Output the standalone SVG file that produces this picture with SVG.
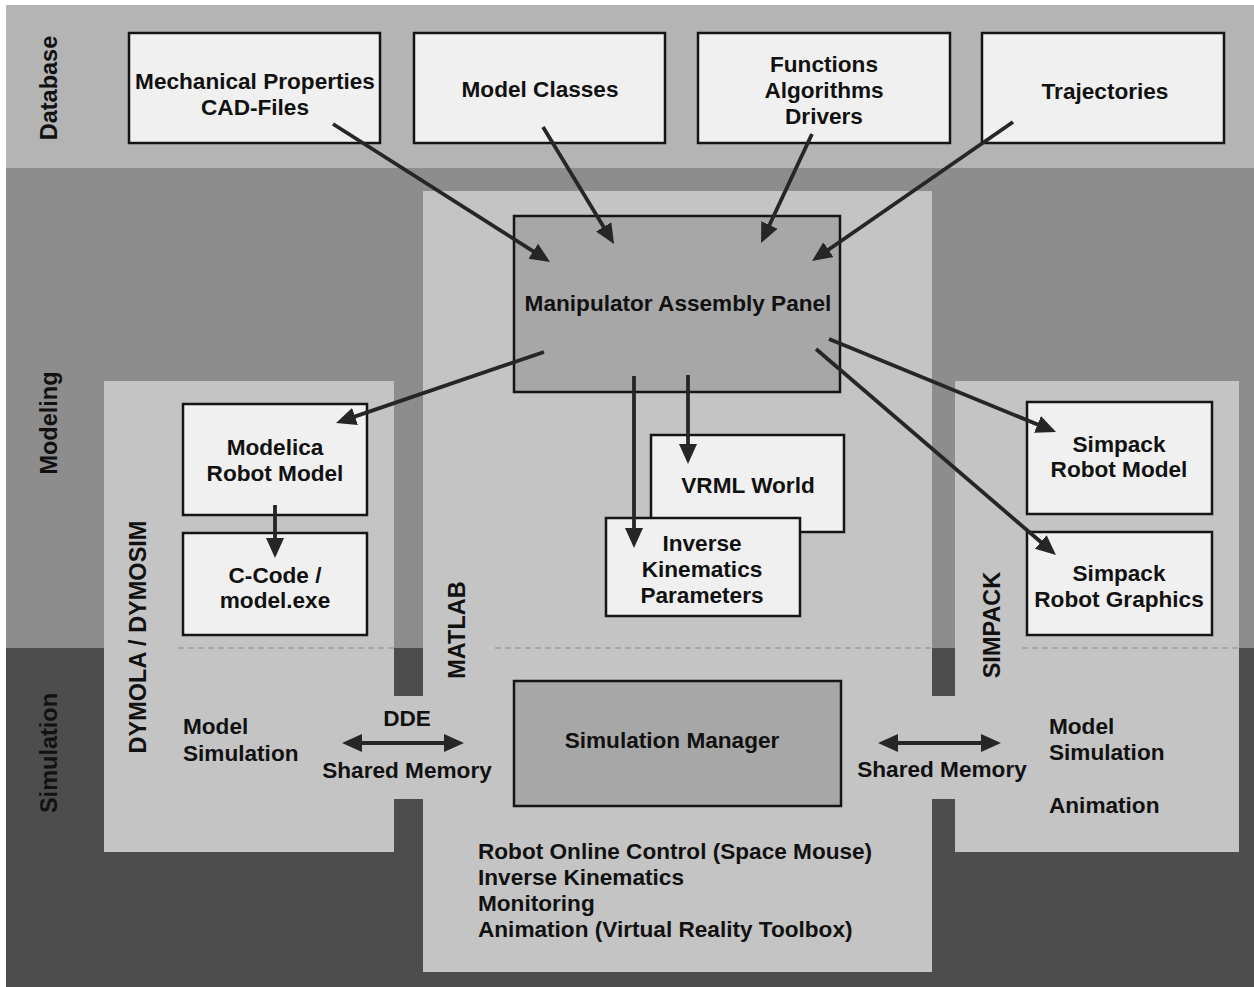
<svg xmlns="http://www.w3.org/2000/svg" width="1254" height="987" viewBox="0 0 1254 987">
<style>
.t{font-family:"Liberation Sans",Arial,sans-serif;font-weight:bold;font-size:22.6px;fill:#111;}
.c{text-anchor:middle;}
.side{font-family:"Liberation Sans",Arial,sans-serif;font-weight:bold;font-size:23.5px;fill:#111;text-anchor:middle;}
.box{fill:#f0f0f0;stroke:#151515;stroke-width:2.5;}
.dark{fill:#a7a7a7;stroke:#151515;stroke-width:2.5;}
.panel{fill:#c4c4c4;}
.edge{stroke:#262626;stroke-width:3.8;fill:none;marker-end:url(#ah);}
.dbl{stroke:#262626;stroke-width:3.8;fill:none;marker-start:url(#ah);marker-end:url(#ah);}
.dash{stroke:#8a8a8a;stroke-width:1;stroke-dasharray:6 4;}
</style>
<defs>
<marker id="ah" viewBox="0 0 20 20" refX="12" refY="10" markerUnits="userSpaceOnUse" markerWidth="20" markerHeight="20" orient="auto-start-reverse">
<path d="M0,1 L20,10 L0,19 z" fill="#262626"/>
</marker>
</defs>
<rect width="1254" height="987" fill="#ffffff"/>
<g id="bands">
<rect x="6" y="5" width="1248" height="163" fill="#b4b4b4"/>
<rect x="6" y="168" width="1248" height="480" fill="#8d8d8d"/>
<rect x="6" y="648" width="1248" height="339" fill="#4d4d4d"/>
<text class="side" transform="translate(57,88) rotate(-90)">Database</text>
<text class="side" transform="translate(57,423) rotate(-90)">Modeling</text>
<text class="side" transform="translate(57,753) rotate(-90)">Simulation</text>
</g>
<g id="panels">
<rect class="panel" x="104" y="381" width="290" height="471"/>
<rect class="panel" x="423" y="191" width="509" height="781"/>
<rect class="panel" x="955" y="381" width="284" height="471"/>
<rect class="panel" x="394" y="696" width="29" height="103"/>
<rect class="panel" x="932" y="696" width="23" height="103"/>
<line class="dash" x1="178" y1="648" x2="394" y2="648"/>
<line class="dash" x1="495" y1="648" x2="931" y2="648"/>
<line class="dash" x1="1022" y1="648" x2="1238" y2="648"/>
<text class="side" transform="translate(146,637) rotate(-90)">DYMOLA / DYMOSIM</text>
<text class="side" transform="translate(465,630) rotate(-90)">MATLAB</text>
<text class="side" transform="translate(1000,625) rotate(-90)">SIMPACK</text>
</g>
<g id="mech">
<rect class="box" x="129" y="33" width="251" height="110"/>
<text class="t c" x="255" y="89">Mechanical Properties</text>
<text class="t c" x="255" y="115">CAD-Files</text>
</g>
<g id="modelclasses">
<rect class="box" x="414" y="33" width="251" height="110"/>
<text class="t c" x="540" y="97">Model Classes</text>
</g>
<g id="functions">
<rect class="box" x="698" y="33" width="252" height="110"/>
<text class="t c" x="824" y="72">Functions</text>
<text class="t c" x="824" y="98">Algorithms</text>
<text class="t c" x="824" y="124">Drivers</text>
</g>
<g id="trajectories">
<rect class="box" x="982" y="33" width="242" height="110"/>
<text class="t c" x="1105" y="99">Trajectories</text>
</g>
<g id="map">
<rect class="dark" x="514" y="216" width="326" height="176"/>
<text class="t c" x="678" y="311">Manipulator Assembly Panel</text>
</g>
<g id="modelica">
<rect class="box" x="183" y="404" width="184" height="111"/>
<text class="t c" x="275" y="455">Modelica</text>
<text class="t c" x="275" y="481">Robot Model</text>
</g>
<g id="ccode">
<rect class="box" x="183" y="533" width="184" height="102"/>
<text class="t c" x="275" y="583">C-Code /</text>
<text class="t c" x="275" y="608">model.exe</text>
</g>
<g id="vrml">
<rect class="box" x="651" y="435" width="193" height="97"/>
<text class="t c" x="748" y="493">VRML World</text>
</g>
<g id="ik">
<rect class="box" x="606" y="518" width="194" height="98"/>
<text class="t c" x="702" y="551">Inverse</text>
<text class="t c" x="702" y="577">Kinematics</text>
<text class="t c" x="702" y="603">Parameters</text>
</g>
<g id="simpackmodel">
<rect class="box" x="1027" y="402" width="185" height="112"/>
<text class="t c" x="1119" y="452">Simpack</text>
<text class="t c" x="1119" y="477">Robot Model</text>
</g>
<g id="simpackgraphics">
<rect class="box" x="1027" y="532" width="185" height="103"/>
<text class="t c" x="1119" y="581">Simpack</text>
<text class="t c" x="1119" y="607">Robot Graphics</text>
</g>
<g id="simmanager">
<rect class="dark" x="514" y="681" width="327" height="125"/>
<text class="t c" x="672" y="748">Simulation Manager</text>
</g>
<g id="dymolasim">
<text class="t" x="183" y="734">Model</text>
<text class="t" x="183" y="761">Simulation</text>
</g>
<g id="matlabsim">
<text class="t" x="478" y="859">Robot Online Control (Space Mouse)</text>
<text class="t" x="478" y="885">Inverse Kinematics</text>
<text class="t" x="478" y="911">Monitoring</text>
<text class="t" x="478" y="937">Animation (Virtual Reality Toolbox)</text>
</g>
<g id="simpacksim">
<text class="t" x="1049" y="734">Model</text>
<text class="t" x="1049" y="760">Simulation</text>
<text class="t" x="1049" y="813">Animation</text>
</g>
<g id="connectors">
<line class="edge" x1="333" y1="124" x2="543.3" y2="257.7"/>
<line class="edge" x1="543" y1="127" x2="609.9" y2="237.2"/>
<line class="edge" x1="812" y1="134" x2="764.4" y2="235.8"/>
<line class="edge" x1="1013" y1="122" x2="818.6" y2="256.5"/>
<line class="edge" x1="544" y1="352" x2="343.6" y2="420.4"/>
<line class="edge" x1="634" y1="376" x2="634" y2="540"/>
<line class="edge" x1="688" y1="375" x2="688" y2="456"/>
<line class="edge" x1="829" y1="339" x2="1048.6" y2="429"/>
<line class="edge" x1="816" y1="349" x2="1049.9" y2="549.8"/>
<line class="edge" x1="275" y1="505" x2="275" y2="550"/>
<line class="dbl" x1="350" y1="743" x2="456" y2="743"/>
<line class="dbl" x1="886" y1="743" x2="993" y2="743"/>
<text class="t c" x="407" y="726">DDE</text>
<text class="t c" x="407" y="778">Shared Memory</text>
<text class="t c" x="942" y="777">Shared Memory</text>
</g>
</svg>
